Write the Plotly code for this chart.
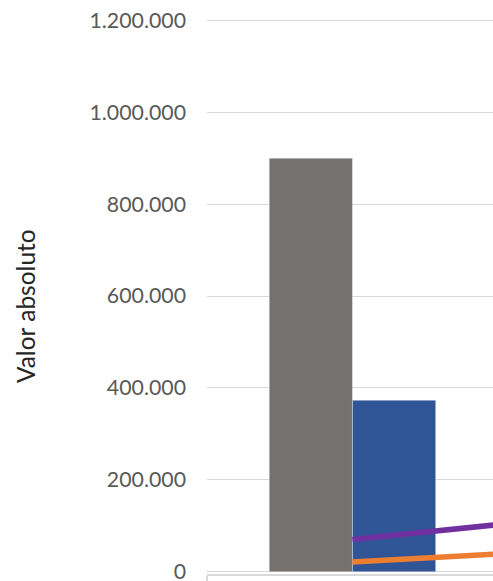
import plotly.graph_objects as go

# Categories on the horizontal axis (only the first one falls inside the view)
categories = ["2020", "2021"]

# Bar series (first category)
bar_gray = [900000]
bar_blue = [373000]

# Line series
line_purple = [70000, 135000]
line_orange = [21000, 56500]

# Y axis ticks
y_tickvals = [0, 200000, 400000, 600000, 800000, 1000000, 1200000]
y_ticktext = ["0", "200.000", "400.000", "600.000", "800.000", "1.000.000", "1.200.000"]

fig = go.Figure()

fig.add_trace(go.Bar(
    x=categories[:1], y=bar_gray, name="Serie 1",
    marker=dict(color="#767171", line=dict(color="rgba(255,255,255,0.35)", width=1)),
))
fig.add_trace(go.Bar(
    x=categories[:1], y=bar_blue, name="Serie 2",
    marker=dict(color="#2F5597", line=dict(color="rgba(255,255,255,0.35)", width=1)),
))
fig.add_trace(go.Scatter(
    x=categories, y=line_purple, name="Serie 3", mode="lines",
    line=dict(color="#7030A0", width=5.5),
))
fig.add_trace(go.Scatter(
    x=categories, y=line_orange, name="Serie 4", mode="lines",
    line=dict(color="#ED7D31", width=5.5),
))

fig.update_layout(
    width=493, height=581,
    margin=dict(l=207, r=0, t=18, b=7),
    paper_bgcolor="white", plot_bgcolor="white",
    barmode="group", bargap=0.428, bargroupgap=0,
    showlegend=False,
    font=dict(family="Lato", size=21.3, color="#595959"),
    annotations=[dict(
        text="Valor absoluto", textangle=-90,
        xref="paper", yref="paper", x=-0.636, y=0.482,
        xanchor="center", yanchor="middle", showarrow=False,
        font=dict(family="Lato", size=24.5, color="#262626"),
    )],
)

fig.update_xaxes(
    type="category", categoryorder="array", categoryarray=categories,
    range=[-0.5, 0.483],
    showgrid=False, zeroline=False,
    showline=True, linecolor="#d9d9d9", linewidth=1.5,
    ticks="outside", tickson="boundaries", ticklen=12, tickcolor="#d9d9d9", tickwidth=1.5,
    showticklabels=False, automargin=False,
)

fig.update_yaxes(
    range=[-5000, 1205000],
    tickmode="array", tickvals=y_tickvals, ticktext=y_ticktext,
    showgrid=True, gridcolor="#d9d9d9", gridwidth=1.4,
    zeroline=False, showline=False,
    ticks="", ticklabelstandoff=20, ticklabeloverflow="allow",
    tickfont=dict(family="Lato", size=21.3, color="#595959"),
    automargin=False,
)

fig.write_html("out.html")
